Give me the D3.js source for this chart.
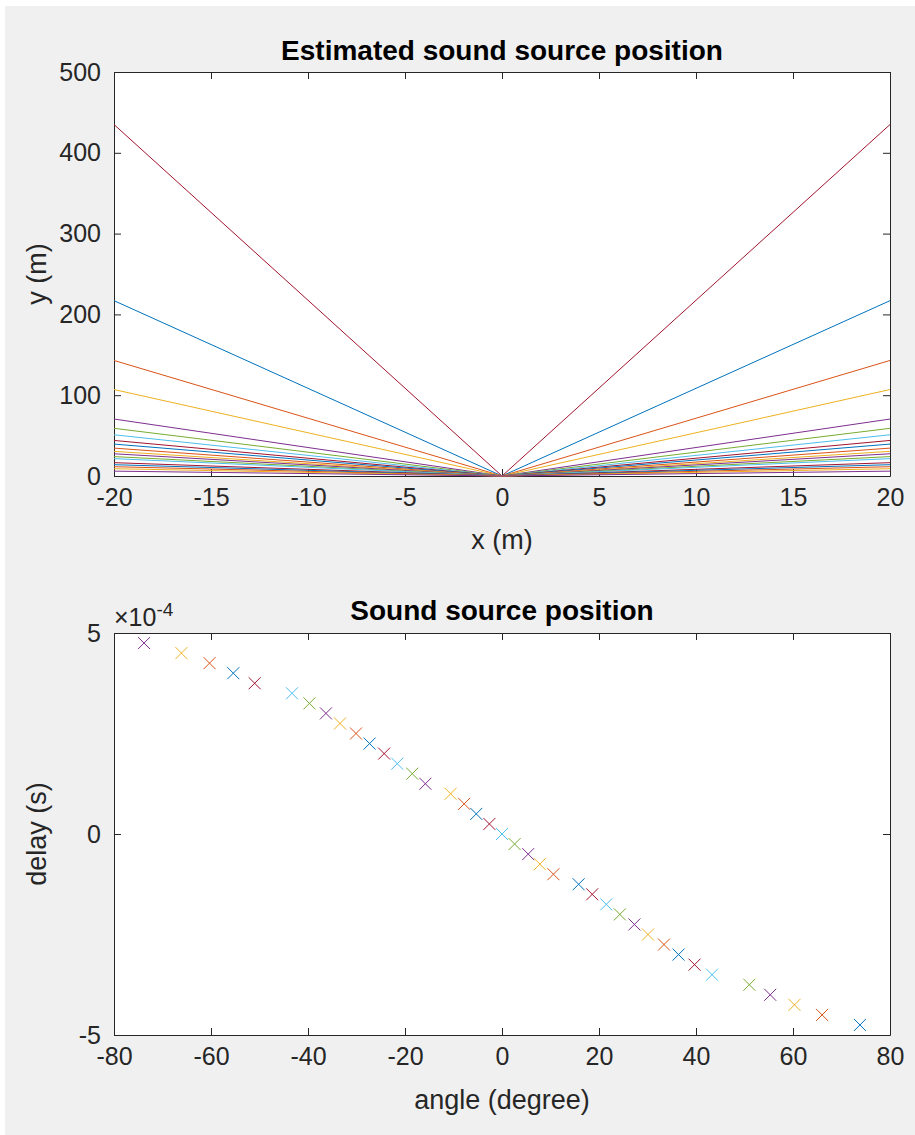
<!DOCTYPE html>
<html>
  <head>
    <meta charset="utf-8">
    <title>Estimated sound source position</title>
    <script src="https://d3js.org/d3.v7.min.js"></script>
    <style>
      body { margin: 0; background: #ffffff; }
      text { font-family: "Liberation Sans", Arial, Helvetica, sans-serif; fill: #262626; }
      .title { font-weight: bold; fill: #000000; font-size: 28px; }
      .tick-label { font-size: 25px; }
      .axis-label { font-size: 27px; }
    </style>
  </head>
  <body>
    <script>
      // matlab default colour order
      var colorOrder = ["#0072BD", "#D95319", "#EDB120", "#7E2F8E", "#77AC30", "#4DBEEE", "#A2142F"];

      // top plot: each line goes from x=-20 down to origin and back up to x=20
      var lineX = [-20, 0, 20];
      var lineEndY = [435, 217, 143, 107, 70.5, 59, 51, 44, 39.5, 34.5, 30.5, 27.5, 24, 21.5, 16.5, 14, 11.5, 9, 6];
      var topXTicks = [-20, -15, -10, -5, 0, 5, 10, 15, 20];
      var topYTicks = [0, 100, 200, 300, 400, 500];

      // bottom plot: angle (degree) vs delay (x1e-4 s)
      var angles = [-73.8, -66.1, -60.3, -55.4, -51.0, -43.3, -39.7, -36.3, -33.4, -30.1,
                    -27.3, -24.3, -21.6, -18.5, -15.8, -10.6, -7.8, -5.3, -2.6, 0,
                    2.6, 5.4, 7.8, 10.6, 15.8, 18.6, 21.5, 24.3, 27.3, 30.1,
                    33.4, 36.4, 39.7, 43.3, 51.0, 55.3, 60.3, 66.0, 73.8];
      var delays = [4.75, 4.5, 4.25, 4.0, 3.75, 3.5, 3.25, 3.0, 2.75, 2.5,
                    2.25, 2.0, 1.75, 1.5, 1.25, 1.0, 0.75, 0.5, 0.25, 0,
                    -0.25, -0.5, -0.75, -1.0, -1.25, -1.5, -1.75, -2.0, -2.25, -2.5,
                    -2.75, -3.0, -3.25, -3.5, -3.75, -4.0, -4.25, -4.5, -4.75];
      var botXTicks = [-80, -60, -40, -20, 0, 20, 40, 60, 80];
      var botYTicks = [-5, 0, 5];

      var width = 915;
      var height = 1135;
      var left = 114, right = 890;
      var tickLen = 7;

      // plain hyphen like matlab, not the unicode minus
      var fmt = function(d) { return String(d); };

      var svg = d3.select("body")
        .append("svg")
        .attr("width", width)
        .attr("height", height);

      // figure background (white strip on top and left edge)
      svg.append("rect")
        .attr("x", 5).attr("y", 6)
        .attr("width", width - 5).attr("height", height - 6)
        .attr("fill", "#f0f0f0");

      function drawAxes(g, x, y, xTicks, yTicks) {
        var x0 = x.range()[0], x1 = x.range()[1];
        var y0 = y.range()[0], y1 = y.range()[1];
        g.append("rect")
          .attr("x", x0).attr("y", y1)
          .attr("width", x1 - x0).attr("height", y0 - y1)
          .attr("fill", "#ffffff");

        // ticks pointing inwards on all four sides
        g.append("g")
          .attr("transform", `translate(0,${y0})`)
          .call(d3.axisBottom(x).tickValues(xTicks).tickSizeInner(-tickLen).tickSizeOuter(0).tickPadding(12).tickFormat(fmt));
        g.append("g")
          .attr("transform", `translate(0,${y1})`)
          .call(d3.axisTop(x).tickValues(xTicks).tickSizeInner(-tickLen).tickSizeOuter(0).tickFormat(""));
        g.append("g")
          .attr("transform", `translate(${x0},0)`)
          .call(d3.axisLeft(y).tickValues(yTicks).tickSizeInner(-tickLen).tickSizeOuter(0).tickPadding(13).tickFormat(fmt));
        g.append("g")
          .attr("transform", `translate(${x1},0)`)
          .call(d3.axisRight(y).tickValues(yTicks).tickSizeInner(-tickLen).tickSizeOuter(0).tickFormat(""));

        g.selectAll(".domain").attr("stroke", "#262626");
        g.selectAll(".tick line").attr("stroke", "#262626");
        g.selectAll("g").attr("font-family", null).attr("font-size", null);
        g.selectAll(".tick text").attr("class", "tick-label").attr("fill", "#262626");
      }

      // ---------- top plot ----------
      var xTop = d3.scaleLinear().domain([-20, 20]).range([left, right]);
      var yTop = d3.scaleLinear().domain([0, 500]).range([476, 72]);
      var gTop = svg.append("g");
      drawAxes(gTop, xTop, yTop, topXTicks, topYTicks);

      var line = d3.line()
        .x(function(d) { return xTop(d[0]); })
        .y(function(d) { return yTop(d[1]); });

      gTop.append("g")
        .selectAll("path")
        .data(lineEndY)
        .enter()
        .append("path")
          .attr("d", function(v) { return line(lineX.map(function(xv) { return [xv, xv === 0 ? 0 : v]; })); })
          .attr("fill", "none")
          .attr("stroke", function(v, i) { return colorOrder[(i + 6) % 7]; })
          .attr("stroke-width", 1);

      gTop.append("text")
        .attr("class", "title")
        .attr("x", (left + right) / 2)
        .attr("y", 60)
        .attr("text-anchor", "middle")
        .text("Estimated sound source position");
      gTop.append("text")
        .attr("class", "axis-label")
        .attr("x", (left + right) / 2)
        .attr("y", 549)
        .attr("text-anchor", "middle")
        .text("x (m)");
      gTop.append("text")
        .attr("class", "axis-label")
        .attr("transform", `translate(46,${(72 + 476) / 2}) rotate(-90)`)
        .attr("text-anchor", "middle")
        .text("y (m)");

      // ---------- bottom plot ----------
      var xBot = d3.scaleLinear().domain([-80, 80]).range([left, right]);
      var yBot = d3.scaleLinear().domain([-5, 5]).range([1035, 633]);
      var gBot = svg.append("g");
      drawAxes(gBot, xBot, yBot, botXTicks, botYTicks);

      var points = angles.map(function(a, i) { return {angle: a, delay: delays[i]}; });
      var m = 6;
      var marks = gBot.append("g")
        .selectAll("g")
        .data(points)
        .enter()
        .append("g")
          .attr("transform", function(d) { return `translate(${xBot(d.angle)},${yBot(d.delay)})`; })
          .attr("stroke", function(d, i) { return colorOrder[((3 - i) % 7 + 7) % 7]; })
          .attr("stroke-width", 1);
      marks.append("line").attr("x1", -m).attr("y1", -m).attr("x2", m).attr("y2", m);
      marks.append("line").attr("x1", -m).attr("y1", m).attr("x2", m).attr("y2", -m);

      var expo = gBot.append("text")
        .attr("class", "tick-label")
        .attr("x", 114)
        .attr("y", 626);
      expo.append("tspan").text("\u00d710");
      expo.append("tspan").attr("dy", -10).style("font-size", "19px").text("-4");

      gBot.append("text")
        .attr("class", "title")
        .attr("x", (left + right) / 2)
        .attr("y", 620)
        .attr("text-anchor", "middle")
        .text("Sound source position");
      gBot.append("text")
        .attr("class", "axis-label")
        .attr("x", (left + right) / 2)
        .attr("y", 1109)
        .attr("text-anchor", "middle")
        .text("angle (degree)");
      gBot.append("text")
        .attr("class", "axis-label")
        .attr("transform", `translate(46,${(633 + 1035) / 2}) rotate(-90)`)
        .attr("text-anchor", "middle")
        .text("delay (s)");
    </script>
  </body>
</html>
